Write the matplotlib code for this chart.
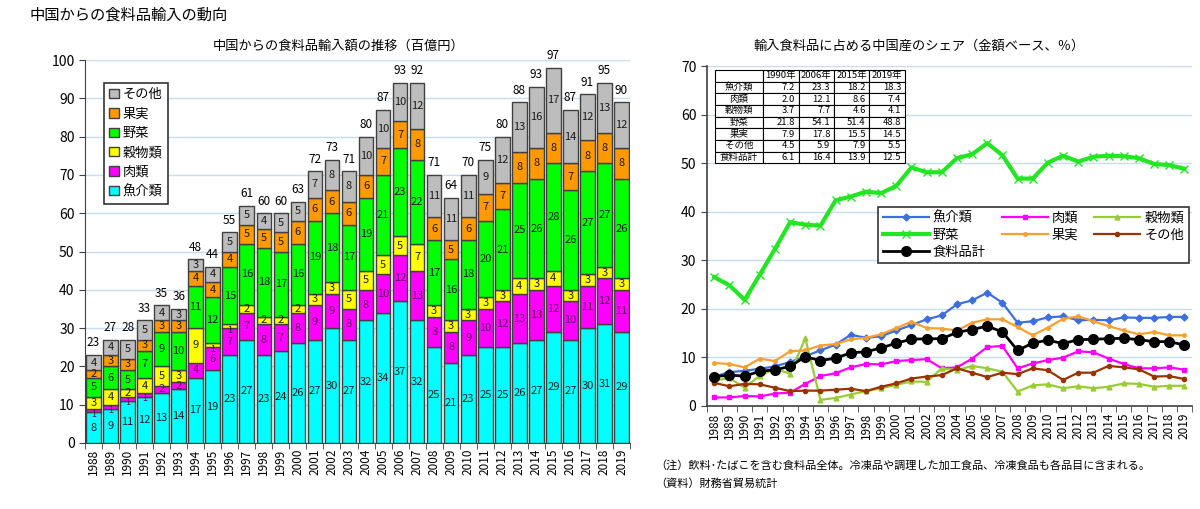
import matplotlib
matplotlib.use('Agg')
import matplotlib.pyplot as plt
import numpy as np
from matplotlib.patches import Patch
from matplotlib.lines import Line2D

plt.rcParams['font.family'] = ['Noto Sans CJK JP', 'DejaVu Sans']

years = [str(y) for y in range(1988, 2020)]

# 中国からの食料品輸入額（百億円）
gyokai = [8, 9, 11, 12, 13, 14, 17, 19, 23, 27, 23, 24, 26, 27, 30, 27,
          32, 34, 37, 32, 25, 21, 23, 25, 25, 26, 27, 29, 27, 30, 31, 29]
niku = [1, 1, 1, 1, 2, 2, 4, 6, 7, 7, 8, 7, 8, 9, 9, 8,
        8, 10, 12, 13, 8, 8, 9, 10, 12, 13, 13, 12, 10, 11, 12, 11]
kokumotsu = [3, 4, 2, 4, 5, 3, 9, 1, 1, 2, 2, 2, 2, 3, 3, 5,
             5, 5, 5, 7, 3, 3, 3, 3, 3, 4, 3, 4, 3, 3, 3, 3]
yasai = [5, 6, 5, 7, 9, 10, 11, 12, 15, 16, 18, 17, 16, 19, 18, 17,
         19, 21, 23, 22, 17, 16, 18, 20, 21, 25, 26, 28, 26, 27, 27, 26]
kajitsu = [2, 3, 3, 3, 3, 3, 4, 4, 4, 5, 5, 5, 6, 6, 6, 6,
           6, 7, 7, 8, 6, 5, 6, 7, 7, 8, 8, 8, 7, 8, 8, 8]
sonota = [4, 4, 5, 5, 4, 3, 3, 4, 5, 5, 4, 5, 5, 7, 8, 8,
          10, 10, 10, 12, 11, 11, 11, 9, 12, 13, 16, 17, 14, 12, 13, 12]
goukei = [23, 27, 28, 33, 35, 36, 48, 44, 55, 61, 60, 60, 63, 72, 73, 71,
          80, 87, 93, 92, 71, 64, 70, 75, 80, 88, 93, 97, 87, 91, 95, 90]

# 輸入食料品に占める中国産のシェア（％）
sh_gyokai = [6.0, 6.9, 7.2, 7.6, 8.1, 9.0, 10.2, 11.4, 12.6, 14.6, 14.0, 14.3, 15.5, 16.6, 17.8, 18.6,
             20.9, 21.7, 23.3, 21.2, 17.1, 17.4, 18.2, 18.4, 17.6, 17.7, 17.6, 18.2, 18.1, 18.1, 18.3, 18.3]
sh_niku = [1.7, 1.7, 2.0, 1.9, 2.5, 2.7, 4.5, 6.1, 6.7, 7.9, 8.6, 8.5, 9.2, 9.4, 9.6, 7.7,
           7.9, 9.7, 12.1, 12.3, 7.7, 8.7, 9.4, 9.9, 11.2, 11.0, 9.7, 8.6, 7.7, 7.7, 7.9, 7.4]
sh_kokumotsu = [5.2, 5.7, 3.7, 6.2, 7.6, 6.6, 13.9, 1.2, 1.6, 2.3, 3.0, 3.6, 4.3, 5.0, 4.9, 7.7,
                7.3, 8.2, 7.7, 7.0, 2.9, 4.2, 4.4, 3.6, 4.0, 3.6, 3.9, 4.6, 4.5, 3.9, 4.1, 4.1]
sh_yasai = [26.5, 24.8, 21.8, 27.0, 32.3, 37.8, 37.3, 37.1, 42.3, 43.1, 44.1, 43.8, 45.3, 49.1, 48.1, 48.1,
            51.0, 51.8, 54.1, 51.6, 46.8, 46.8, 50.1, 51.5, 50.3, 51.3, 51.5, 51.4, 51.0, 49.8, 49.6, 48.8]
sh_kajitsu = [8.8, 8.6, 7.9, 9.7, 9.2, 11.2, 11.4, 12.4, 12.7, 13.7, 14.0, 14.7, 16.0, 17.3, 16.0, 15.9,
              15.5, 17.1, 17.8, 17.8, 16.2, 14.5, 16.1, 17.9, 18.4, 17.4, 16.4, 15.5, 14.7, 15.2, 14.5, 14.5]
sh_sonota = [4.7, 4.0, 4.5, 4.4, 3.7, 3.0, 3.1, 3.1, 3.3, 3.5, 3.0, 3.9, 4.6, 5.6, 6.0, 6.3,
             7.7, 6.8, 5.9, 6.8, 6.5, 7.7, 7.3, 5.3, 6.8, 6.8, 8.2, 7.9, 7.5, 6.0, 6.1, 5.5]
sh_goukei = [6.0, 6.3, 6.1, 7.1, 7.4, 8.1, 10.1, 9.3, 9.8, 10.9, 11.1, 11.9, 12.9, 13.7, 13.8, 13.8,
             15.1, 15.7, 16.4, 15.2, 11.4, 12.9, 13.5, 12.8, 13.6, 13.7, 13.8, 13.9, 13.6, 13.2, 13.2, 12.5]

tbl_cols = ['', '1990年', '2006年', '2015年', '2019年']
tbl_rows = ['魚介類', '肉類', '穀物類', '野菜', '果実', 'その他', '食料品計']
tbl_vals = [['7.2', '23.3', '18.2', '18.3'],
            ['2.0', '12.1', '8.6', '7.4'],
            ['3.7', '7.7', '4.6', '4.1'],
            ['21.8', '54.1', '51.4', '48.8'],
            ['7.9', '17.8', '15.5', '14.5'],
            ['4.5', '5.9', '7.9', '5.5'],
            ['6.1', '16.4', '13.9', '12.5']]

names = ['魚介類', '肉類', '穀物類', '野菜', '果実', 'その他']
colors = ['#00ffff', '#ff00ff', '#ffff00', '#00ff00', '#ff9900', '#bdbdbd']
label_colors = ['#1a1a1a', '#5a005a', '#1a1a1a', '#1a1a1a', '#1a1a1a', '#1a1a1a']
grid_col = '#c6dcf2'

fig = plt.figure(figsize=(12, 5.09), dpi=100)
fig.text(30/1200, 1-15/509, '中国からの食料品輸入の動向', fontsize=11, va='center', ha='left')
fig.text(339/1200, 1-46/509, '中国からの食料品輸入額の推移（百億円）', fontsize=9.5, va='center', ha='center')
fig.text(919/1200, 1-46/509, '輸入食料品に占める中国産のシェア（金額ベース、％）', fontsize=9.5, va='center', ha='center')
fig.text(655/1200, 1-465/509, '（注）飲料･たばこを含む食料品全体。冷凍品や調理した加工食品、冷凍食品も各品目に含まれる。',
         fontsize=8, va='center', ha='left')
fig.text(655/1200, 1-484/509, '（資料）財務省貿易統計', fontsize=8, va='center', ha='left')

# ---- 左：積み上げ棒グラフ
ax1 = fig.add_axes([85/1200, 1-443/509, 545/1200, 383/509])
x = np.arange(len(years))
series = [gyokai, niku, kokumotsu, yasai, kajitsu, sonota]
bottom = np.zeros(len(years))
for vals, c, lc, nm in zip(series, colors, label_colors, names):
    vals = np.array(vals, dtype=float)
    ax1.bar(x, vals, 0.86, bottom=bottom, color=c, edgecolor='#404040', linewidth=1.0, zorder=3)
    for xi, b, v in zip(x, bottom, vals):
        fs = 8 if v > 1 else 6.5
        ylab = b + v/2 if v > 1 else b + v/2 - 1.0
        ax1.text(xi, ylab, str(int(v)), ha='center', va='center', fontsize=fs, color=lc, zorder=4)
    bottom = bottom + vals
for xi, top, t in zip(x, bottom, goukei):
    ax1.annotate(str(t), (xi, top), xytext=(0, 4), textcoords='offset points',
                 ha='center', va='bottom', fontsize=8.5)

ax1.set_xlim(-0.5, len(years) - 0.5)
ax1.set_ylim(0, 100)
ax1.set_yticks(range(0, 101, 10))
ax1.yaxis.grid(True, color=grid_col, linewidth=1, zorder=0)
ax1.set_axisbelow(True)
ax1.set_xticks(x)
ax1.set_xticklabels(years, rotation=90, fontsize=8.5)
ax1.set_xticks(np.arange(-0.5, len(years), 1), minor=True)
ax1.tick_params(axis='x', which='major', length=0, pad=4)
ax1.tick_params(axis='x', which='minor', length=4, color='#404040')
ax1.tick_params(axis='y', labelsize=10, length=4, color='#404040')
for s in ['top', 'right']:
    ax1.spines[s].set_visible(False)
for s in ['left', 'bottom']:
    ax1.spines[s].set_color('#404040')

handles = [Patch(facecolor=c, edgecolor='#404040', label=n) for c, n in zip(colors, names)][::-1]
leg1 = ax1.legend(handles=handles, loc='upper left', bbox_to_anchor=(0.035, 0.94), fontsize=9.5,
                  handlelength=0.7, handleheight=0.7, handletextpad=0.3, labelspacing=0.48,
                  fancybox=False, edgecolor='#333333', framealpha=1, borderpad=0.4, borderaxespad=0)
leg1.get_frame().set_linewidth(1.2)

# ---- 右：折れ線グラフ
ax2 = fig.add_axes([706.7/1200, 1-405.7/509, 485.3/1200, 339.7/509])
l_gyokai, = ax2.plot(x, sh_gyokai, color='#3c6ee0', lw=1.6, marker='D', ms=3.5, label='魚介類', zorder=4)
l_niku, = ax2.plot(x, sh_niku, color='#ff00ff', lw=1.6, marker='s', ms=3.5, label='肉類', zorder=4)
l_koku, = ax2.plot(x, sh_kokumotsu, color='#99cc33', lw=1.6, marker='^', ms=3.5, label='穀物類', zorder=4)
l_yasai, = ax2.plot(x, sh_yasai, color='#22e622', lw=3, marker='x', ms=6, mew=1, label='野菜', zorder=4)
l_kaji, = ax2.plot(x, sh_kajitsu, color='#f7a030', lw=1.6, marker='o', ms=2.5, label='果実', zorder=4)
l_sono, = ax2.plot(x, sh_sonota, color='#993300', lw=1.6, marker='o', ms=3, label='その他', zorder=4)
l_goukei, = ax2.plot(x, sh_goukei, color='black', lw=2, marker='o', ms=7, label='食料品計', zorder=5)

ax2.set_xlim(-0.5, len(years) - 0.5)
ax2.set_ylim(0, 70)
ax2.set_yticks(range(0, 71, 10))
ax2.yaxis.grid(True, color=grid_col, linewidth=1, zorder=0)
ax2.set_axisbelow(True)
ax2.set_xticks(x)
ax2.set_xticklabels(years, rotation=90, fontsize=8.5)
ax2.set_xticks(np.arange(-0.5, len(years), 1), minor=True)
ax2.tick_params(axis='x', which='major', length=0, pad=5)
ax2.tick_params(axis='x', which='minor', length=4, color='#404040')
ax2.tick_params(axis='y', labelsize=10, length=4, color='#404040')
for s in ['top', 'right']:
    ax2.spines[s].set_visible(False)
for s in ['left', 'bottom']:
    ax2.spines[s].set_color('#404040')
    ax2.spines[s].set_linewidth(1.2)

leg_h = [l_gyokai, l_yasai, l_goukei, l_niku, l_kaji, l_koku, l_sono]
leg2 = ax2.legend(handles=leg_h, ncol=3, loc='upper left', bbox_to_anchor=(0.353, 0.405, 0.64, 0.18),
                  mode='expand', fontsize=9.5, handlelength=3.5, handletextpad=0.3, labelspacing=0.3,
                  fancybox=False, edgecolor='#333333', framealpha=1, borderpad=0.35, borderaxespad=0)
leg2.get_frame().set_linewidth(1.2)

cell = [tbl_cols] + [[r] + v for r, v in zip(tbl_rows, tbl_vals)]
tb = ax2.table(cellText=cell, bbox=[0.017, 0.714, 0.391, 0.274], zorder=6)
tb.auto_set_font_size(False)
tb.set_fontsize(6.8)
for (r, c), cl in tb.get_celld().items():
    cl.set_edgecolor('black')
    cl.set_linewidth(0.8)
    cl.set_facecolor('white')
    cl.set_width(0.3 if c == 0 else 0.22)
    if c == 0 or r == 0:
        cl._loc = 'center'
        cl.get_text().set_ha('center')
    else:
        cl._loc = 'right'
        cl.get_text().set_ha('right')

fig.savefig('out.png', dpi=100)
